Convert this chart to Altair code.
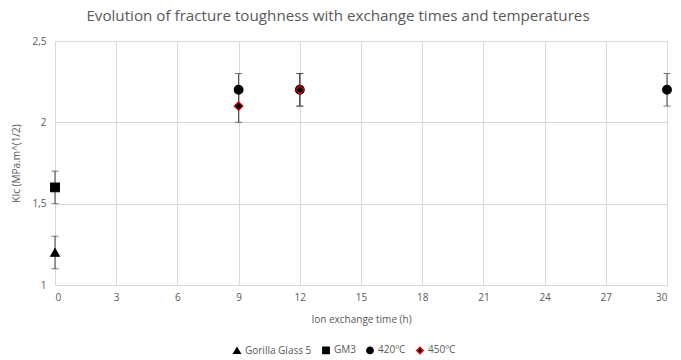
import altair as alt
import pandas as pd

series = ["Gorilla Glass 5", "GM3", "420ºC", "420ºC", "420ºC", "450ºC", "450ºC"]
times = [0, 0, 9, 12, 30, 9, 12]
kic = [1.2, 1.6, 2.2, 2.2, 2.2, 2.1, 2.2]
err = [0.1, 0.1, 0.1, 0.1, 0.1, 0.1, 0.1]

order = ["Gorilla Glass 5", "GM3", "420ºC", "450ºC"]
shapes = ["triangle-up", "square", "circle", "diamond"]
fills = ["#000000", "#000000", "#000000", "#000000"]
strokes = ["#000000", "#000000", "#000000", "#e00000"]

df = pd.DataFrame({"series": series, "t": times, "k": kic, "e": err})
df["lo"] = df["k"] - df["e"]
df["hi"] = df["k"] + df["e"]

font = "Open Sans"
grid = "#d9d9d9"
txt = "#595959"

x = alt.X("t:Q", title="Ion exchange time (h)",
          scale=alt.Scale(domain=[0, 30], nice=False),
          axis=alt.Axis(values=list(range(0, 31, 3)), grid=True, gridColor=grid,
                        domainColor=grid, ticks=False, labelPadding=7,
                        labelColor=txt, labelFont=font, labelFontSize=10,
                        titleColor=txt, titleFont=font, titleFontSize=10,
                        titleFontWeight="normal", titlePadding=12))
y = alt.Y("k:Q", title="KIc (MPa.m^(1/2)",
          scale=alt.Scale(domain=[1, 2.5], nice=False, zero=False),
          axis=alt.Axis(values=[1, 1.5, 2, 2.5], grid=True, gridColor=grid,
                        domainColor=grid, ticks=False, labelPadding=9,
                        labelExpr="replace(toString(datum.value), '.', ',')",
                        labelColor=txt, labelFont=font, labelFontSize=10,
                        titleColor=txt, titleFont=font, titleFontSize=10,
                        titleFontWeight="normal", titlePadding=10))

base = alt.Chart(df)
rules = base.mark_rule(color="#404040", strokeWidth=1).encode(
    x=x, y=alt.Y("lo:Q"), y2="hi:Q")
cap_lo = base.mark_tick(color="#404040", orient="horizontal", size=7, thickness=1).encode(
    x="t:Q", y="lo:Q")
cap_hi = base.mark_tick(color="#404040", orient="horizontal", size=7, thickness=1).encode(
    x="t:Q", y="hi:Q")
points = base.mark_point(filled=False, opacity=1, strokeWidth=1.2, size=75).encode(
    x="t:Q", y=y,
    shape=alt.Shape("series:N", scale=alt.Scale(domain=order, range=shapes),
                    legend=alt.Legend(title=None, orient="none", direction="horizontal",
                                      legendX=177, legendY=304, labelFont=font,
                                      labelFontSize=10, labelColor=txt, symbolSize=40,
                                      columnPadding=7, labelOffset=3)),
    fill=alt.Fill("series:N", scale=alt.Scale(domain=order, range=fills), legend=alt.Legend(title=None)),
    stroke=alt.Stroke("series:N", scale=alt.Scale(domain=order, range=strokes), legend=alt.Legend(title=None)),
)

chart = alt.layer(rules, cap_lo, cap_hi, points).properties(
    width=612, height=244,
    title=alt.TitleParams("Evolution of fracture toughness with exchange times and temperatures",
                          font=font, fontSize=15.2, fontWeight="normal", color=txt,
                          anchor="middle", dx=-23, offset=12),
    autosize=alt.AutoSizeParams(type="none"),
    padding={"left": 47, "top": 33, "right": 6, "bottom": 71},
).configure_view(stroke=None)

chart.save("out.html", embed_options={"renderer": "svg", "actions": False})
